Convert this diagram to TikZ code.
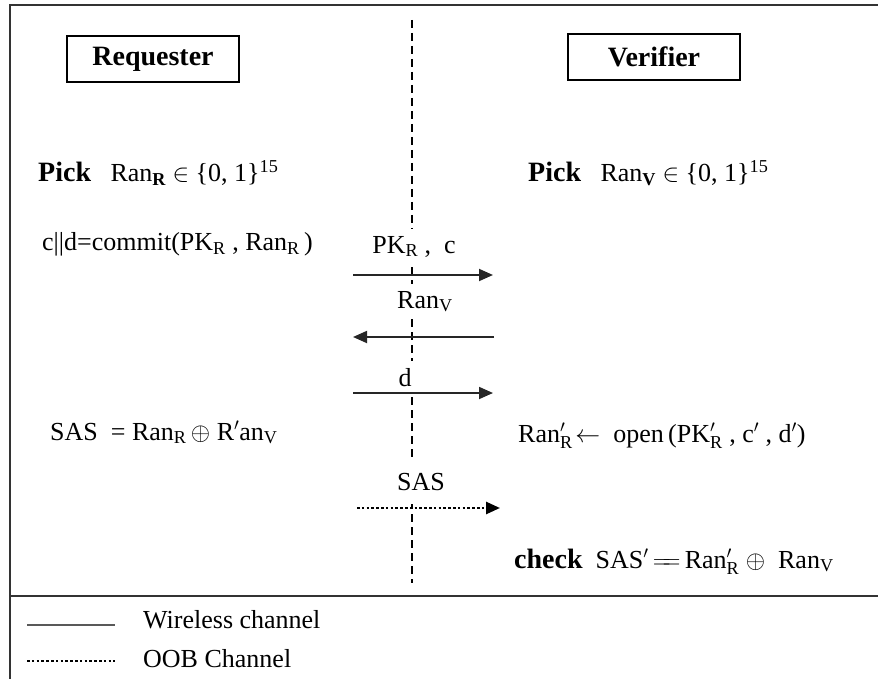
\documentclass[tikz,border=0pt]{standalone}
\usepackage{fontspec}
\setmainfont{Liberation Serif}
\usepackage{amsmath}
\usetikzlibrary{arrows.meta, positioning}

\newcommand{\tx}[1]{\text{#1}}
\newcommand{\kw}[1]{{\fontsize{28}{32}\selectfont\bfseries #1}}

\tikzset{
  party/.style={draw, line width=1.5pt, minimum width=172pt, minimum height=46pt,
    font=\fontsize{28}{32}\selectfont\bfseries},
  step txt/.style={anchor=base west, inner sep=0pt, font=\fontsize{26}{30}\selectfont},
  msg/.style={anchor=base, fill=white, inner xsep=4pt, inner ysep=7pt,
    font=\fontsize{26}{30}\selectfont},
  wire/.style={line width=1.8pt, black!85, -{Triangle[length=14pt,width=12pt]}},
  oob/.style={line width=2.6pt, dash pattern=on 2.6pt off 2.2pt,
    -{Triangle[length=14pt,width=12pt]}},
  frame/.style={line width=2pt, black!80},
}

\begin{document}
\begin{tikzpicture}[x=1pt,y=-1pt]
\useasboundingbox (0,0) rectangle (878,679);
\def\midx{412}

% frame
\coordinate (TL) at (10,5);
\coordinate (TR) at (878,5);
\coordinate (BL) at (10,679);
\coordinate (SL) at (10,596);
\coordinate (SR) at (878,596);
\draw[frame] (TR) -- (TL) -- (BL);
\draw[frame] (SL) -- (SR);

% channel line
\coordinate (top) at (\midx,20);
\coordinate (bot) at (\midx,583);
\draw[line width=1.5pt, dash pattern=on 8pt off 5pt] (top) -- (bot);

% parties
\node[party] (req) at (153,59) {Requester};
\node[party] (ver) at (654,57) {Verifier};

% requester side
\node[step txt] (pickR) at (38,182)
  {\kw{Pick}\ \ \ Ran$_{\textbf{R}}$\ $\in$\ \{0, 1\}$^{\tx{15}}$};
\node[step txt] (commit) at (42,251)
  {c||d=commit(PK$_{\tx{R}}$ , Ran$_{\tx{R}}$\,)};
\node[step txt] (sasR) at (50,440)
  {SAS\ \ = Ran$_{\tx{R}}$\,$\oplus$\ R$'$an$_{\tx{V}}$};

% verifier side
\node[step txt] (pickV) at (528,182)
  {\kw{Pick}\ \ \ Ran$_{\textbf{V}}$\ $\in$\ \{0, 1\}$^{\tx{15}}$};
\node[step txt] (openV) at (518,442)
  {Ran$'_{\tx{R}}\!\leftarrow$\ \ open\,(PK$'_{\tx{R}}$\ , c$'$\ , d$'$)};
\node[step txt] (check) at (514,568)
  {\kw{check}\ \ SAS$'$\,$\mathrel{=\!\!=}$\,Ran$'_{\tx{R}}$\ $\oplus$\ \ Ran$_{\tx{V}}$};

% messages
\node[msg] (m1) at (414,253) {PK$_{\tx{R}}$\ , \ c};
\node[msg] (m2) at (425,308) {Ran$_{\tx{V}}$};
\node[msg] (m3) at (405,386) {d};
\node[msg, inner ysep=14pt] (m4) at (421,490) {SAS};

\coordinate (a1s) at (353,275); \coordinate (a1e) at (493,275);
\coordinate (a2s) at (494,337); \coordinate (a2e) at (353,337);
\coordinate (a3s) at (353,393); \coordinate (a3e) at (493,393);
\coordinate (a4s) at (357,508); \coordinate (a4e) at (500,508);

\draw[wire] (a1s) -- (a1e);
\draw[wire] (a2s) -- (a2e);
\draw[wire] (a3s) -- (a3e);
\draw[oob] (a4s) -- (a4e);

% legend
\coordinate (l1s) at (27,625); \coordinate (l1e) at (115,625);
\coordinate (l2s) at (27,661); \coordinate (l2e) at (115,661);
\draw[line width=1.8pt, black!65] (l1s) -- (l1e);
\draw[line width=2.6pt, dash pattern=on 2.6pt off 2.2pt] (l2s) -- (l2e);
\node[step txt] (lw) at (143,628) {Wireless channel};
\node[step txt] (lo) at (143,667) {OOB Channel};
\end{tikzpicture}
\end{document}
